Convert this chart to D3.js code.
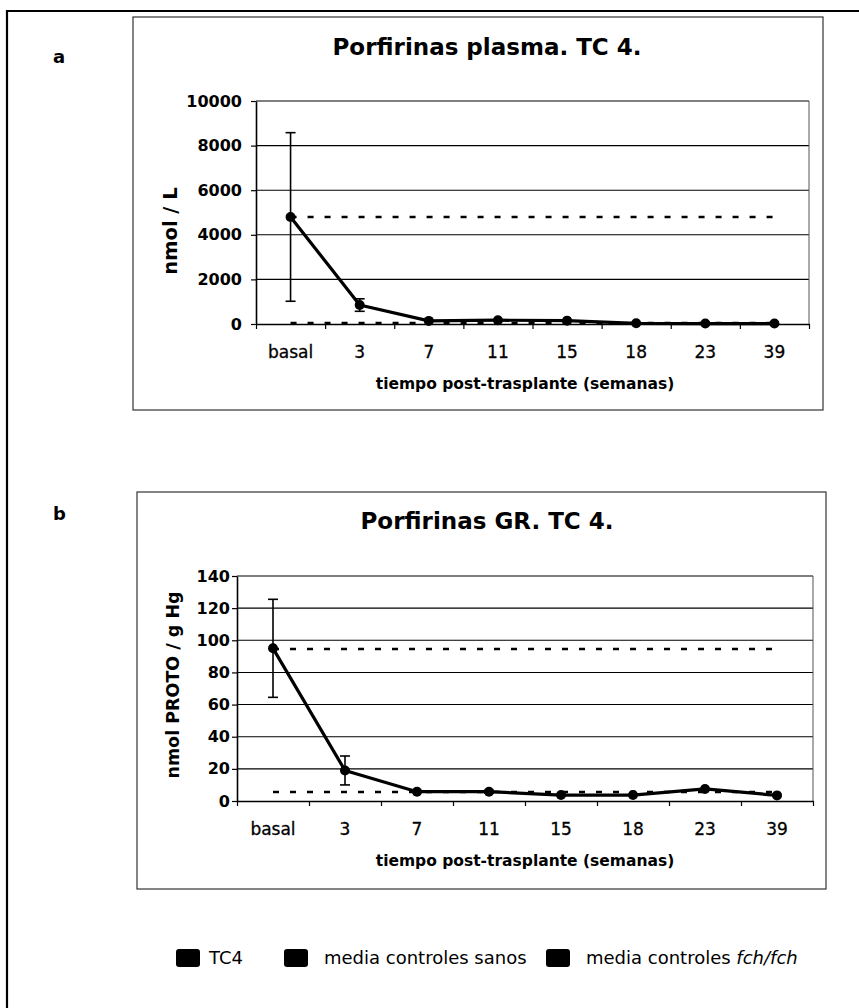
<!DOCTYPE html>
<meta charset="utf-8">
<style>
  body { margin: 0; background: #fff; }
  svg { display: block; font-family: "DejaVu Sans", Verdana, sans-serif; }
</style>
<svg width="859" height="1008"></svg>
<script src="https://d3js.org/d3.v7.min.js"></script>
<script>

var width = 859,
    height = 1008;

// data
var weeks = ["basal", "3", "7", "11", "15", "18", "23", "39"];

var plasmaTC4 = [4800, 850, 140, 170, 150, 30, 20, 20],
    plasmaTC4Err = [3780, 280, 0, 0, 0, 0, 0, 0],
    plasmaSanos = [40, 40, 40, 40, 40, 40, 40, 40],
    plasmaFch = [4800, 4800, 4800, 4800, 4800, 4800, 4800, 4800],
    plasmaTicks = [0, 2000, 4000, 6000, 8000, 10000];

var grTC4 = [95, 19, 5.8, 5.8, 3.7, 3.7, 7.5, 3.5],
    grTC4Err = [30.5, 9, 0, 0.8, 0, 0, 0, 0],
    grSanos = [5.6, 5.6, 5.6, 5.6, 5.6, 5.6, 5.6, 5.6],
    grFch = [94.6, 94.6, 94.6, 94.6, 94.6, 94.6, 94.6, 94.6],
    grTicks = [0, 20, 40, 60, 80, 100, 120, 140];

var legendItems = ["TC4", "media controles sanos", "media controles "];

var svg = d3.select("svg");

// outer frame (only top and left edges are visible in the crop)
svg.append("path")
    .attr("d", "M7,1008V11H859")
    .attr("fill", "none")
    .attr("stroke", "#000")
    .attr("stroke-width", 2.2);

function drawChart(o) {
  var g = svg.append("g");

  g.append("rect")
      .attr("x", o.box[0]).attr("y", o.box[1])
      .attr("width", o.box[2] - o.box[0]).attr("height", o.box[3] - o.box[1])
      .attr("fill", "none").attr("stroke", "#333").attr("stroke-width", 1.2);

  g.append("text")
      .attr("x", 53).attr("y", o.letterY)
      .attr("font-size", 18).attr("font-weight", "bold")
      .text(o.letter);

  var x = d3.scaleBand().domain(weeks).range([o.plot[0], o.plot[2]]),
      xEdge = d3.scaleLinear().domain([0, weeks.length]).range([o.plot[0], o.plot[2]]),
      y = d3.scaleLinear().domain([0, o.ticks[o.ticks.length - 1]]).range([o.plot[3], o.plot[1]]);

  var cx = function(d, i) { return x(weeks[i]) + x.bandwidth() / 2; };

  // grid
  g.append("g").selectAll("line")
    .data(o.ticks.slice(1))
    .join("line")
      .attr("x1", o.plot[0]).attr("x2", o.plot[2])
      .attr("y1", function(d) { return y(d); }).attr("y2", function(d) { return y(d); })
      .attr("stroke", "#000").attr("stroke-width", 1.1);

  g.append("line")
      .attr("x1", o.plot[2]).attr("x2", o.plot[2])
      .attr("y1", o.plot[1]).attr("y2", o.plot[3])
      .attr("stroke", "#555").attr("stroke-width", 1);

  // y axis
  var ya = g.append("g")
      .attr("transform", "translate(" + o.plot[0] + ",0)")
      .call(d3.axisLeft(y).tickValues(o.ticks).tickFormat(d3.format("d"))
        .tickSize(5).tickPadding(o.yPad).tickSizeOuter(0));
  ya.select(".domain").attr("stroke-width", 1.6);
  ya.selectAll("line").attr("stroke-width", 1.2);
  ya.selectAll("text").attr("font-size", 16).attr("font-weight", "bold")
      .attr("font-family", "DejaVu Sans").attr("fill", "#000");

  // x axis: ticks at category edges, labels at centres
  var xa = g.append("g")
      .attr("transform", "translate(0," + o.plot[3] + ")")
      .call(d3.axisBottom(xEdge).tickValues(d3.range(weeks.length + 1)).tickSize(5).tickFormat("").tickSizeOuter(0));
  xa.select(".domain").attr("stroke-width", 1.6);
  xa.selectAll("line").attr("stroke-width", 1.2);

  g.append("g").selectAll("text")
    .data(weeks)
    .join("text")
      .attr("x", function(d) { return x(d) + x.bandwidth() / 2; })
      .attr("y", o.plot[3] + 34)
      .attr("text-anchor", "middle")
      .attr("font-size", 17)
      .attr("stroke", "#000").attr("stroke-width", 0.3)
      .text(function(d) { return d; });

  g.append("text")
      .attr("x", o.xTitle[0]).attr("y", o.xTitle[1])
      .attr("text-anchor", "middle")
      .attr("font-size", 15.5).attr("font-weight", "bold")
      .text("tiempo post-trasplante (semanas)");

  g.append("text")
      .attr("transform", "translate(" + o.yTitle[0] + "," + o.yTitle[1] + ")rotate(-90)")
      .attr("text-anchor", "middle")
      .attr("font-size", o.yTitle[2]).attr("font-weight", "bold")
      .text(o.yLabel);

  g.append("text")
      .attr("x", o.title[0]).attr("y", o.title[1])
      .attr("text-anchor", "middle")
      .attr("font-size", 23).attr("font-weight", "bold")
      .text(o.titleText);

  var line = d3.line().x(cx).y(function(d) { return y(d); });

  // control means, dashed
  [o.sanos, o.fch].forEach(function(s) {
    g.append("path")
        .attr("d", line(s))
        .attr("fill", "none")
        .attr("stroke", "#000")
        .attr("stroke-width", 2.6)
        .attr("stroke-dasharray", "6 11");
  });

  // error bars
  var eb = g.append("g").selectAll("g")
    .data(o.tc4.map(function(v, i) { return {v: v, e: o.err[i], i: i}; }).filter(function(d) { return d.e > 0; }))
    .join("g");
  eb.append("line")
      .attr("x1", function(d) { return cx(d, d.i); }).attr("x2", function(d) { return cx(d, d.i); })
      .attr("y1", function(d) { return y(d.v + d.e); }).attr("y2", function(d) { return y(Math.max(0, d.v - d.e)); })
      .attr("stroke", "#000").attr("stroke-width", 1.6);
  [1, -1].forEach(function(sg) {
    eb.append("line")
        .attr("x1", function(d) { return cx(d, d.i) - 5; }).attr("x2", function(d) { return cx(d, d.i) + 5; })
        .attr("y1", function(d) { return y(Math.max(0, d.v + sg * d.e)); })
        .attr("y2", function(d) { return y(Math.max(0, d.v + sg * d.e)); })
        .attr("stroke", "#000").attr("stroke-width", 1.6);
  });

  // TC4 series
  g.append("path")
      .attr("d", line(o.tc4))
      .attr("fill", "none")
      .attr("stroke", "#000")
      .attr("stroke-width", 3.2)
      .attr("stroke-linejoin", "round");

  g.append("g").selectAll("circle")
    .data(o.tc4)
    .join("circle")
      .attr("cx", cx)
      .attr("cy", function(d) { return y(d); })
      .attr("r", 5)
      .attr("fill", "#000");
}

drawChart({
  letter: "a", letterY: 63,
  box: [133, 17, 823, 410],
  plot: [256, 101, 809, 324],
  ticks: plasmaTicks, yPad: 9,
  titleText: "Porfirinas plasma. TC 4.", title: [487, 55],
  yLabel: "nmol / L", yTitle: [177, 231, 19.5],
  xTitle: [525, 389],
  tc4: plasmaTC4, err: plasmaTC4Err, sanos: plasmaSanos, fch: plasmaFch
});

drawChart({
  letter: "b", letterY: 520,
  box: [137, 492, 826, 889],
  plot: [237, 576, 813, 801],
  ticks: grTicks, yPad: 2,
  titleText: "Porfirinas GR. TC 4.", title: [487, 529],
  yLabel: "nmol PROTO / g Hg", yTitle: [179, 685, 17.5],
  xTitle: [525, 866],
  tc4: grTC4, err: grTC4Err, sanos: grSanos, fch: grFch
});

// legend
var legX = [176, 284, 546];
var leg = svg.append("g").selectAll("g")
  .data(legendItems)
  .join("g")
    .attr("transform", function(d, i) { return "translate(" + legX[i] + ",949)"; });

leg.append("rect")
    .attr("width", 24).attr("height", 18)
    .attr("rx", 3)
    .attr("fill", "#000");

var lt = leg.append("text")
    .attr("x", function(d, i) { return i === 0 ? 33 : 40; })
    .attr("y", 15)
    .attr("font-size", 18)
    .text(function(d) { return d; });

lt.filter(function(d, i) { return i === 2; })
  .append("tspan")
    .attr("font-style", "italic")
    .text("fch/fch");

</script>
